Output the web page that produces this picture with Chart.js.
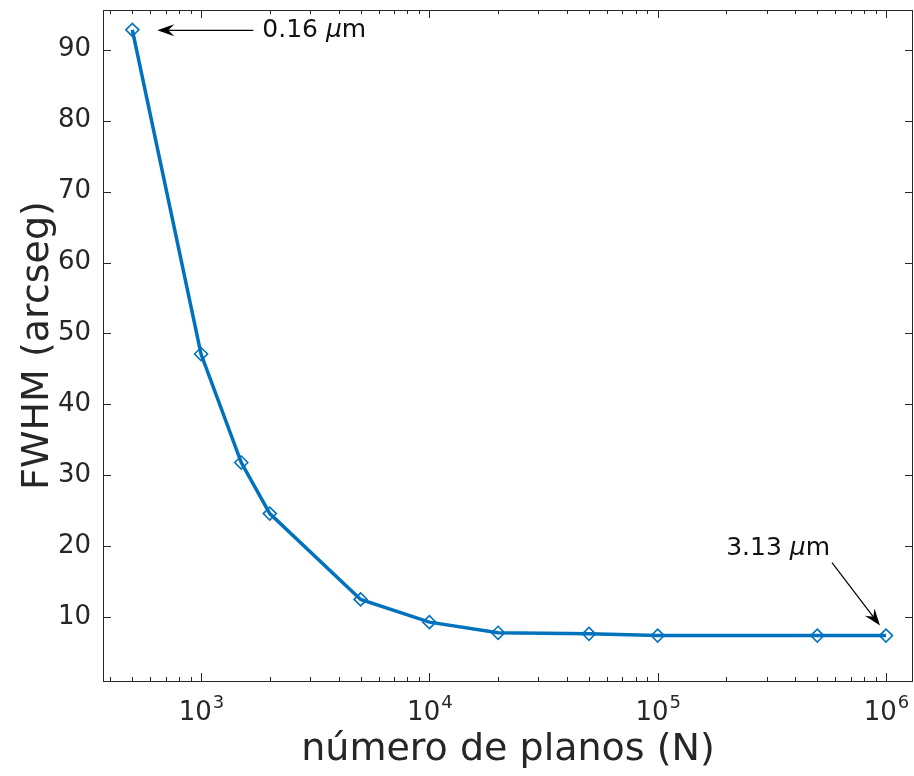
<!DOCTYPE html>
<html>
<head>
<meta charset="utf-8">
<script src="https://cdn.jsdelivr.net/npm/chart.js@4.4.1/dist/chart.umd.min.js"></script>
<style>
  body { margin: 0; background: #fff; }
</style>
</head>
<body>
<canvas id="fwhmGraph" width="914" height="776"></canvas>
<script>
// numero de planos vs FWHM
var planos = [500, 1000, 1500, 2000, 5000, 10000, 20000, 50000, 100000, 500000, 1000000];
var fwhm = [92.8, 47.1, 31.8, 24.6, 12.5, 9.3, 7.8, 7.65, 7.4, 7.4, 7.4];

var xTicks = [1e3, 1e4, 1e5, 1e6];
var xExp = ['3', '4', '5', '6'];
var yTicks = [10, 20, 30, 40, 50, 60, 70, 80, 90];

// flechas: indice del punto y texto
var notaIdx = [0, 10];
var notaTxt = ['0.16 ', '3.13 '];

var AZUL = '#0072BD';
var GRIS = '#262626';
var FUENTE = "'DejaVu Sans', sans-serif";

function flecha(ctx, tx, ty, hx, hy) {
  var ang = Math.atan2(hy - ty, hx - tx);
  var len = 17, half = 6, notch = 11;
  ctx.save();
  ctx.strokeStyle = '#000';
  ctx.fillStyle = '#000';
  ctx.lineWidth = 1.2;
  ctx.beginPath();
  ctx.moveTo(tx, ty);
  ctx.lineTo(hx - Math.cos(ang) * notch, hy - Math.sin(ang) * notch);
  ctx.stroke();
  ctx.translate(hx, hy);
  ctx.rotate(ang);
  ctx.beginPath();
  ctx.moveTo(0, 0);
  ctx.lineTo(-len, -half);
  ctx.lineTo(-notch, 0);
  ctx.lineTo(-len, half);
  ctx.closePath();
  ctx.fill();
  ctx.restore();
}

// "x.xx μm" con la mu en cursiva
function textoMu(ctx, num, x, y, alinear) {
  var normal = '25px ' + FUENTE, cursiva = 'italic 25px ' + FUENTE;
  ctx.font = normal;
  var w1 = ctx.measureText(num).width;
  var w3 = ctx.measureText('m').width;
  ctx.font = cursiva;
  var w2 = ctx.measureText('\u03bc').width;
  var x0 = alinear == 'right' ? x - (w1 + w2 + w3) : x;
  ctx.fillStyle = '#111';
  ctx.textBaseline = 'middle';
  ctx.textAlign = 'left';
  ctx.font = normal;
  ctx.fillText(num, x0, y);
  ctx.font = cursiva;
  ctx.fillText('\u03bc', x0 + w1, y);
  ctx.font = normal;
  ctx.fillText('m', x0 + w1 + w2, y);
}

function sinPadding(s) {
  s.paddingTop = 0;
  s.paddingBottom = 0;
  s.paddingLeft = 0;
  s.paddingRight = 0;
}

var ejes = {
  id: 'ejes',
  afterDraw: function(chart) {
    var ctx = chart.ctx, a = chart.chartArea;
    var xs = chart.scales.x, ys = chart.scales.y;
    ctx.save();
    ctx.strokeStyle = GRIS;
    ctx.lineWidth = 1;
    ctx.strokeRect(a.left + 0.5, a.top + 0.5, a.right - a.left - 1, a.bottom - a.top);

    ctx.beginPath();
    // y ticks izquierda y derecha
    yTicks.forEach(function(v) {
      var p = Math.round(ys.getPixelForValue(v)) + 0.5;
      ctx.moveTo(a.left, p); ctx.lineTo(a.left + 8, p);
      ctx.moveTo(a.right, p); ctx.lineTo(a.right - 8, p);
    });
    // x ticks mayores y menores, abajo y arriba
    for (var d = 100; d <= 1e6; d *= 10) {
      for (var m = 1; m <= 9; m++) {
        var v = d * m;
        if (v < xs.min || v > xs.max) continue;
        var p = Math.round(xs.getPixelForValue(v)) + 0.5;
        var L = m == 1 ? 8 : 4;
        ctx.moveTo(p, a.bottom); ctx.lineTo(p, a.bottom - L);
        ctx.moveTo(p, a.top); ctx.lineTo(p, a.top + L);
      }
    }
    ctx.stroke();

    // etiquetas 10^n
    ctx.fillStyle = GRIS;
    ctx.textBaseline = 'alphabetic';
    ctx.textAlign = 'left';
    xTicks.forEach(function(v, i) {
      var p = xs.getPixelForValue(v);
      ctx.font = '26px ' + FUENTE;
      var wb = ctx.measureText('10').width;
      ctx.font = '18px ' + FUENTE;
      var we = ctx.measureText(xExp[i]).width;
      var x0 = p - (wb + we) / 2;
      ctx.font = '26px ' + FUENTE;
      ctx.fillText('10', x0, a.bottom + 39);
      ctx.font = '18px ' + FUENTE;
      ctx.fillText(xExp[i], x0 + wb + 1, a.bottom + 27);
    });

    // anotaciones
    var pts = chart.getDatasetMeta(0).data;
    var p0 = pts[notaIdx[0]];
    flecha(ctx, p0.x + 121, p0.y + 0.5, p0.x + 25, p0.y + 0.5);
    textoMu(ctx, notaTxt[0], p0.x + 130, p0.y + 1, 'left');
    var p1 = pts[notaIdx[1]];
    flecha(ctx, p1.x - 54, p1.y - 73, p1.x - 6, p1.y - 10);
    textoMu(ctx, notaTxt[1], p1.x - 56, p1.y - 87, 'right');
    ctx.restore();
  }
};

var ctx = document.getElementById('fwhmGraph').getContext('2d');
var fwhmChart = new Chart(ctx, {
  type: 'line',
  data: {
    datasets: [{
      data: planos.map(function(n, i) { return { x: n, y: fwhm[i] }; }),
      borderColor: AZUL,
      borderWidth: 3.5,
      backgroundColor: 'rgba(0,0,0,0)',
      pointStyle: 'rectRot',
      pointRadius: 6.5,
      pointBorderWidth: 1.6,
      pointBorderColor: AZUL,
      pointBackgroundColor: 'rgba(0,0,0,0)',
      tension: 0,
      clip: false
    }]
  },
  options: {
    responsive: false,
    animation: false,
    events: [],
    layout: { autoPadding: false, padding: { top: 10, right: 1, left: 0, bottom: 0 } },
    plugins: { legend: { display: false }, tooltip: { enabled: false } },
    scales: {
      x: {
        type: 'logarithmic',
        min: 372,
        max: 1.313e6,
        grid: { display: false, drawTicks: false },
        border: { display: false },
        ticks: { display: false },
        afterBuildTicks: function(s) { s.ticks = xTicks.map(function(v) { return { value: v }; }); },
        afterFit: function(s) { s.height = 95; sinPadding(s); },
        title: {
          display: true,
          text: 'número de planos (N)',
          color: GRIS,
          font: { family: FUENTE, size: 38 },
          padding: { top: 0, bottom: 3 }
        }
      },
      y: {
        min: 1,
        max: 95.6,
        grid: { display: false, drawTicks: false },
        border: { display: false },
        afterBuildTicks: function(s) { s.ticks = yTicks.map(function(v) { return { value: v }; }); },
        afterFit: function(s) { s.width = 103; sinPadding(s); },
        ticks: {
          color: GRIS,
          padding: 12,
          font: { family: FUENTE, size: 26 }
        },
        title: {
          display: true,
          text: 'FWHM (arcseg)',
          color: GRIS,
          font: { family: FUENTE, size: 38 },
          padding: { top: 15, bottom: 0 }
        }
      }
    }
  },
  plugins: [ejes]
});
</script>
</body>
</html>
